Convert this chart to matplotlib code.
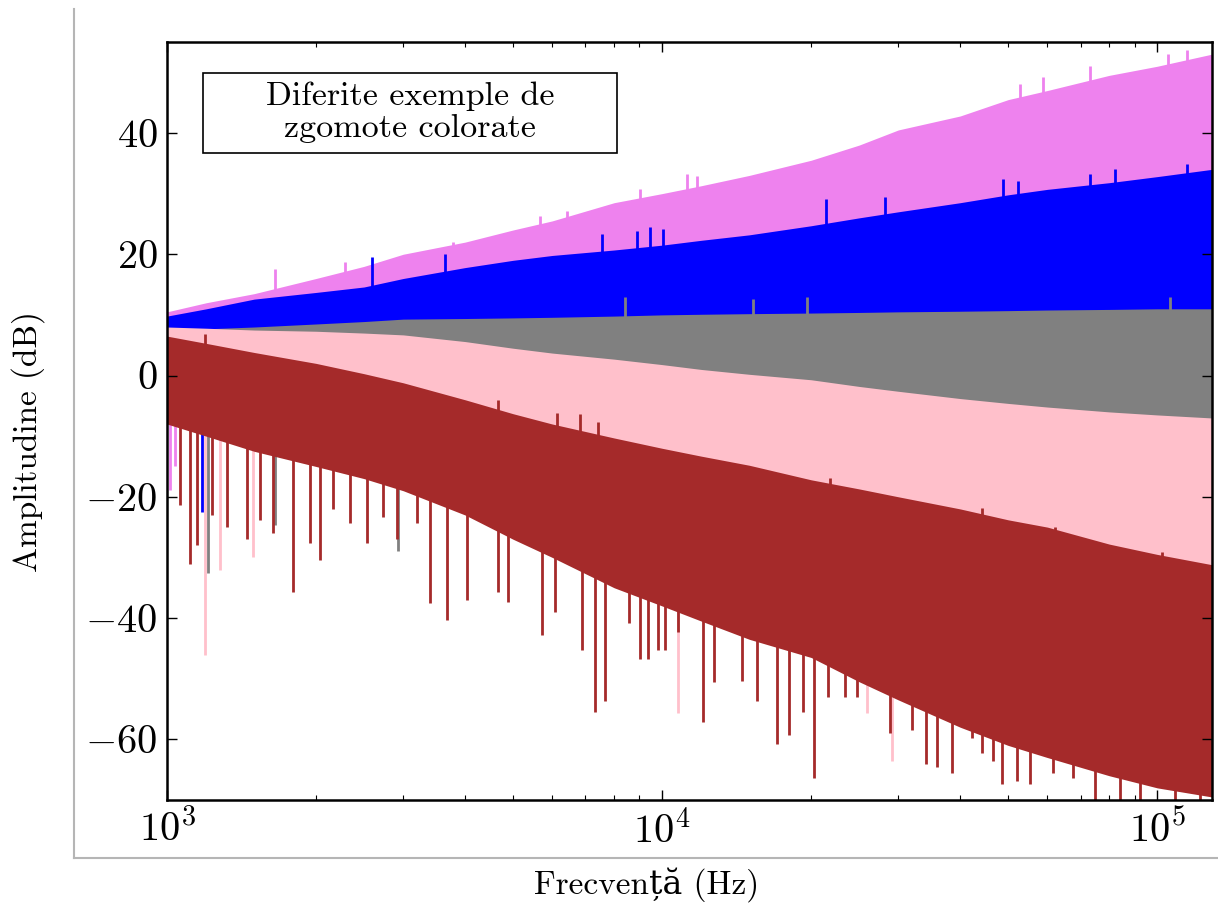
import numpy as np
import matplotlib
matplotlib.use("Agg")
import matplotlib.pyplot as plt
from matplotlib.lines import Line2D
from matplotlib.patches import Rectangle

# ---------------- data ----------------
freq = [1000, 1200, 1500, 2000, 2500, 3000, 4000, 5000, 6000, 8000, 10000,
        12000, 15000, 20000, 25000, 30000, 40000, 50000, 60000, 80000, 100000, 129000]

violet_top = [10.5, 12, 13.5, 16, 18, 20, 22, 24, 25.5, 28.5, 30, 31.3, 33,
              35.5, 38, 40.5, 42.8, 45.5, 47, 49.5, 51, 53]
violet_low = [6.8, 8, 9.6, 10.7, 11.6, 13, 14.8, 16, 16.8, 17.7, 18.5, 19.3,
              20.2, 21.7, 23, 24, 25.5, 26.8, 27.7, 28.8, 29.8, 31]
blue_top = [9.8, 11, 12.6, 13.7, 14.6, 16, 17.8, 19, 19.8, 20.7, 21.5, 22.3,
            23.2, 24.7, 26, 27, 28.5, 29.8, 30.7, 31.8, 32.8, 34]
blue_low = [4.5, 4.7, 5, 5.5, 5.9, 6.3, 6.4, 6.5, 6.6, 6.8, 7, 7.1, 7.2, 7.3,
            7.4, 7.5, 7.6, 7.7, 7.8, 7.9, 8, 8]
gray_top = [7.5, 7.7, 8, 8.5, 8.9, 9.3, 9.4, 9.5, 9.6, 9.8, 10, 10.1, 10.2,
            10.3, 10.4, 10.5, 10.6, 10.7, 10.8, 10.9, 11, 11]
gray_low = [5, 4.8, 4.5, 4.3, 4, 3.7, 2.6, 1.5, 0.7, -0.3, -1.2, -2, -2.8,
            -3.7, -4.8, -5.6, -6.8, -7.6, -8.2, -9, -9.5, -10]
pink_top = [8, 7.8, 7.5, 7.3, 7, 6.7, 5.6, 4.5, 3.7, 2.7, 1.8, 1, 0.2, -0.7,
            -1.8, -2.6, -3.8, -4.6, -5.2, -6, -6.5, -7]
pink_low = [3.5, 2.8, 1.8, 0.4, -0.8, -3, -7, -9.5, -11, -13.1, -15, -16.3,
            -17.8, -20.2, -21.7, -23, -25, -26.8, -28, -30.8, -32.5, -34.2]
brown_top = [6.5, 5.3, 3.8, 2, 0.3, -1.2, -4, -6.3, -8, -10.3, -12, -13.3,
             -14.8, -17.2, -18.7, -20, -22, -23.8, -25, -27.8, -29.5, -31.2]
brown_low = [-8, -10, -12.5, -15, -17, -19, -23, -27, -30, -35, -38,
             -40.5, -43.5, -46.5, -50.5, -53.5, -58, -61, -63, -66, -68, -69.5]

# upward peaks on the upper edges
violet_up_f = [1650, 2290, 3782, 5667, 6429, 9029, 11233, 11769, 52870, 58860,
               73220, 105250, 114980]
violet_up_v = [17.5, 18.8, 22.1, 26.3, 27.1, 30.7, 33.2, 32.9, 48.1, 49.3,
               51.1, 53.1, 53.6]
blue_up_f = [2595, 3645, 7565, 8903, 9458, 10047, 21450, 28220, 48860, 52390,
             73220, 82280, 114980]
blue_up_v = [19.5, 20, 23.3, 23.8, 24.5, 24.1, 29.1, 29.4, 32.4, 32.1, 33.2,
             34.0, 34.9]
gray_up_f = [8420, 15270, 19630, 106250]
gray_up_v = [12.9, 12.6, 12.9, 13]
brown_up_f = [1193, 4665, 6135, 6828, 7425, 21850, 44306, 62230, 102350]
brown_up_v = [6.8, -4, -6.1, -6.4, -7.6, -16.9, -21.8, -25, -29.1]

# downward dips below the lower edges
violet_dn_f = [1014, 1038]
violet_dn_v = [-18.8, -15]
blue_dn_f = [1177]
blue_dn_v = [-22.5]
gray_dn_f = [1210, 1653, 2929]
gray_dn_v = [-32.6, -24.6, -29]
pink_dn_f = [1193, 1279, 1492, 10773, 25950, 29150]
pink_dn_v = [-46.1, -32, -30, -55.7, -55.7, -63.5]
brown_dn_f = [1062, 1113, 1150, 1233, 1322, 1451, 1541, 1637, 1797, 1944, 2037,
              2165, 2343, 2535, 2732, 2915, 3200, 3399, 3679, 4037, 4665, 4886,
              5723, 6078, 6893, 7320, 7670, 8577, 9029, 9370, 9815, 10141, 10773,
              12102, 12739, 14506, 15556, 17075, 18057, 19268, 20285, 21650,
              23434, 24771, 28883, 31992, 34151, 35938, 38529, 42294, 44306,
              46630, 48630, 52149, 55381, 61660, 67674, 74950, 84220, 92400,
              108750, 122150]
brown_dn_v = [-21.3, -31, -28, -23, -25, -27, -23.8, -26, -35.7, -27.6, -30.4,
              -22, -24.3, -27.6, -23.3, -27, -24.3, -37.5, -40.3, -37, -35.7,
              -37.4, -42.8, -39, -45.3, -55.5, -53.6, -40.8, -46.8, -46.8, -45.3,
              -45.3, -42.3, -57.2, -50.6, -50.3, -53.6, -60.7, -59.3, -55.5,
              -66.3, -53, -53, -53, -59, -58.5, -64, -64.6, -65.6, -59.7, -62.3,
              -63.5, -67.3, -66.8, -67.3, -65.6, -66.3, -75, -75, -75, -75, -75]

x_ticks = [1e3, 1e4, 1e5]
y_ticks = [-60, -40, -20, 0, 20, 40]

# ---------------- style ----------------
plt.rcParams['font.family'] = ['cmr10', 'DejaVu Serif']
plt.rcParams['mathtext.fontset'] = 'cm'
plt.rcParams['axes.formatter.use_mathtext'] = True

fig = plt.figure(figsize=(12.18, 9.06), dpi=100)
ax = fig.add_axes([167 / 1218, 1 - 800 / 906, 1045 / 1218, 758 / 906])
ax.set_xscale('log')

logf = np.log10(freq)


def band(top, low, color, up_f, up_v, dn_f, dn_v, z):
    ax.fill_between(freq, low, top, color=color, lw=0, zorder=z)
    if up_f:
        base = np.interp(np.log10(up_f), logf, top) - 1.5
        ax.vlines(up_f, base, up_v, color=color, lw=2.0, zorder=z)
    if dn_f:
        base = np.interp(np.log10(dn_f), logf, low) + 1.5
        ax.vlines(dn_f, dn_v, base, color=color, lw=2.0, zorder=z)


band(violet_top, violet_low, 'violet', violet_up_f, violet_up_v, violet_dn_f, violet_dn_v, 1.1)
band(blue_top, blue_low, 'blue', blue_up_f, blue_up_v, blue_dn_f, blue_dn_v, 1.2)
band(gray_top, gray_low, 'gray', gray_up_f, gray_up_v, gray_dn_f, gray_dn_v, 1.3)
band(pink_top, pink_low, 'pink', [], [], pink_dn_f, pink_dn_v, 1.4)
band(brown_top, brown_low, 'brown', brown_up_f, brown_up_v, brown_dn_f, brown_dn_v, 1.5)

ax.set_xlim(1000, 129000)
ax.set_ylim(-70, 55)
ax.set_xticks(x_ticks)
ax.set_yticks(y_ticks)
ax.tick_params(which='both', direction='in', top=True, right=True)
ax.tick_params(which='major', length=7, width=1.0, labelsize=29, pad=7)
ax.tick_params(which='minor', length=3.5, width=0.8)
for s in ax.spines.values():
    s.set_linewidth(1.8)
    s.set_zorder(3)

ax.set_xlabel('Frecvență (Hz)', fontsize=24)
ax.xaxis.set_label_coords(0.459, -0.088)
ax.set_ylabel('Amplitudine (dB)', fontsize=24)
ax.yaxis.set_label_coords(-0.117, 0.4736)

# annotation box
fig.add_artist(Rectangle((203 / 1218, 1 - 153 / 906), 414 / 1218, 80 / 906,
                         transform=fig.transFigure, facecolor='white',
                         edgecolor='black', lw=1.2, zorder=5))
fig.text(410 / 1218, 1 - 112 / 906, 'Diferite exemple de\nzgomote colorate',
         ha='center', va='center', fontsize=24.5, zorder=6, linespacing=1.12)

# outer light frame (L shape)
fig.add_artist(Line2D([74 / 1218, 74 / 1218], [1 - 9 / 906, 1 - 858 / 906],
                      transform=fig.transFigure, color='#b5b5b5', lw=1.5))
fig.add_artist(Line2D([74 / 1218, 1217 / 1218], [1 - 858 / 906, 1 - 858 / 906],
                      transform=fig.transFigure, color='#b5b5b5', lw=1.5))

fig.savefig('out.png', dpi=100)
